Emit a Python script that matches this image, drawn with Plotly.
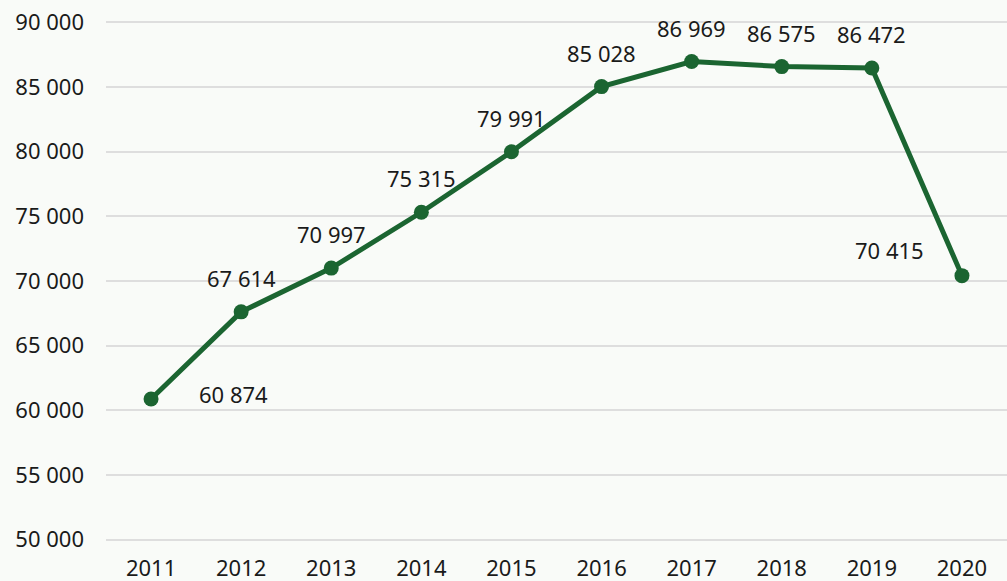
import plotly.graph_objects as go

years = [2011, 2012, 2013, 2014, 2015, 2016, 2017, 2018, 2019, 2020]
year_labels = ["2011", "2012", "2013", "2014", "2015", "2016", "2017", "2018", "2019", "2020"]
values = [60874, 67614, 70997, 75315, 79991, 85028, 86969, 86575, 86472, 70415]
label_texts = ["60 874", "67 614", "70 997", "75 315", "79 991", "85 028", "86 969", "86 575", "86 472", "70 415"]
y_ticks = [50000, 55000, 60000, 65000, 70000, 75000, 80000, 85000, 90000]
y_tick_text = ["50 000", "55 000", "60 000", "65 000", "70 000", "75 000", "80 000", "85 000", "90 000"]

green = "#1b6531"
bg = "#f9fbf8"
font_family = "Noto Sans, Open Sans, sans-serif"

fig = go.Figure()
fig.add_trace(go.Scatter(
    x=years, y=values, mode="lines+markers",
    line=dict(color=green, width=5),
    marker=dict(color=green, size=15),
    hoverinfo="skip",
))

shifts = {0: (82, 5), 9: (-72, 26)}
for i, (yr, v, t) in enumerate(zip(years, values, label_texts)):
    xs, ys = shifts.get(i, (0, 34))
    fig.add_annotation(x=yr, y=v, text=t, showarrow=False, xshift=xs, yshift=ys,
                       font=dict(size=22, color="#1a1a1a", family=font_family))

fig.update_layout(
    width=1007, height=581,
    margin=dict(l=106, r=0, t=21, b=40),
    paper_bgcolor=bg, plot_bgcolor=bg,
    showlegend=False,
    font=dict(family=font_family, size=22, color="#1a1a1a"),
)
fig.update_xaxes(range=[2010.5, 2020.5], tickvals=years, ticktext=year_labels,
                 showgrid=False, showline=False, zeroline=False, ticks="",
                 tickfont=dict(size=22), ticklabelstandoff=12, automargin=False)
fig.update_yaxes(range=[49900, 90100], tickvals=y_ticks, ticktext=y_tick_text,
                 showgrid=True, gridcolor="#dedede", gridwidth=2, zeroline=False,
                 showline=False, ticks="", tickfont=dict(size=22), ticklabelstandoff=21,
                 automargin=False)

fig.write_html("out.html", config={"displayModeBar": False},
               post_script="document.body.style.margin='0';document.body.style.background='" + bg + "';")
